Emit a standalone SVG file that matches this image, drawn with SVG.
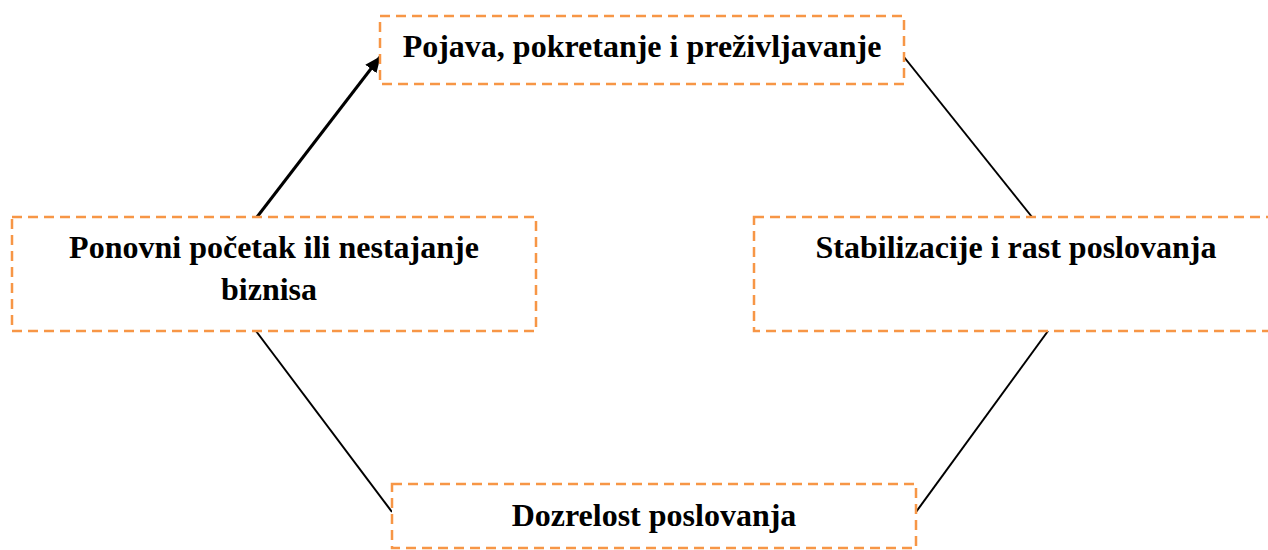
<svg xmlns="http://www.w3.org/2000/svg" width="1268" height="550" viewBox="0 0 1268 550">
<style>
.box{fill:#fff;stroke:#F79646;stroke-width:2.5;stroke-dasharray:10 6}
.t{font-family:"Liberation Serif","Times New Roman",serif;font-weight:bold;font-size:32px;fill:#000;text-anchor:middle}
.c{stroke:#000;stroke-width:2;fill:none}
</style>
<defs>
<marker id="ah" markerWidth="16" markerHeight="14" refX="15" refY="7" orient="auto" markerUnits="userSpaceOnUse" viewBox="0 0 16 14">
<path d="M0,0 L16,7 L0,14 z" fill="#000"/>
</marker>
</defs>
<g id="connectors">
<line class="c" x1="257" y1="217" x2="380" y2="57" marker-end="url(#ah)" style="stroke-width:3"/>
<line class="c" x1="904" y1="57" x2="1032" y2="217"/>
<line class="c" x1="1048" y1="331" x2="916" y2="512"/>
<line class="c" x1="256" y1="331" x2="392" y2="512"/>
</g>
<g id="n1">
<rect class="box" x="380" y="16" width="524" height="68"/>
<text class="t" x="642" y="57">Pojava, pokretanje i preživljavanje</text>
</g>
<g id="n2">
<rect class="box" x="754" y="217" width="530" height="114"/>
<text class="t" x="1016" y="258">Stabilizacije i rast poslovanja</text>
</g>
<g id="n3">
<rect class="box" x="392" y="484" width="524" height="64"/>
<text class="t" x="654" y="526">Dozrelost poslovanja</text>
</g>
<g id="n4">
<rect class="box" x="12" y="217" width="524" height="114"/>
<text class="t" x="274" y="258">Ponovni početak ili nestajanje</text>
<text class="t" x="269" y="300">biznisa</text>
</g>
</svg>
